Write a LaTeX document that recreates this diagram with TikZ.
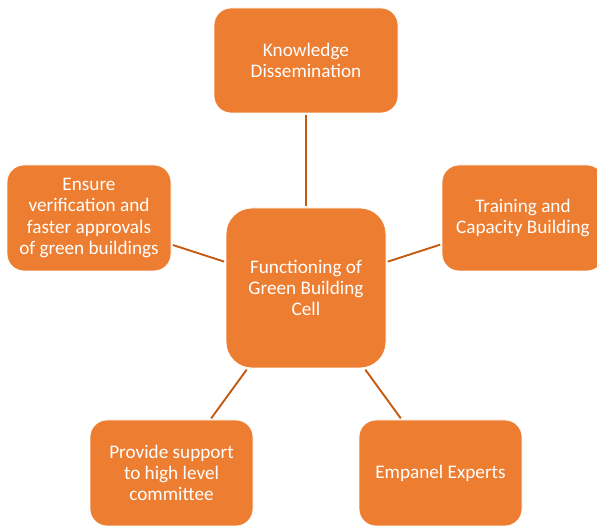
\documentclass[tikz,border=0pt]{standalone}
\usepackage{fontspec}
\setmainfont{Carlito}
\definecolor{boxfill}{HTML}{ED7D31}
\definecolor{linkcol}{HTML}{C55A11}
\begin{document}
\begin{tikzpicture}[x=1pt,y=1pt,
  box/.style={draw=white, line width=0.8pt, fill=boxfill, text=white, align=center,
    rounded corners=17pt, inner sep=0pt, font=\fontsize{19.2}{21.2}\selectfont},
  link/.style={draw=linkcol, line width=1.9pt}]
\useasboundingbox (0,0) rectangle (597,525);
\clip (0,0) rectangle (597,525);
\node[box, minimum width=160pt, minimum height=160pt, rounded corners=26pt] (c) at (306,237) {Functioning of\\Green Building\\Cell};
\node[box, minimum width=184pt, minimum height=105pt] (top) at (306,464.5) {Knowledge\\Dissemination};
\node[box, minimum width=164pt, minimum height=106pt] (left) at (89,307) {Ensure\\verification and\\faster approvals\\of green buildings};
\node[box, minimum width=162pt, minimum height=106pt] (right) at (523,307) {Training and\\Capacity Building};
\node[box, minimum width=163pt, minimum height=106pt] (bl) at (171.5,52) {Provide support\\to high level\\committee};
\node[box, minimum width=163pt, minimum height=106pt] (br) at (440.5,52) {Empanel Experts};
\draw[link, shorten >=1.5pt, shorten <=1.5pt] (top) -- (c);
\draw[link, shorten >=1.5pt, shorten <=1.5pt] (left) -- (c);
\draw[link, shorten >=1.5pt, shorten <=1.5pt] (right) -- (c);
\draw[link, shorten >=1.5pt, shorten <=1.5pt] (bl) -- (c);
\draw[link, shorten >=1.5pt, shorten <=1.5pt] (br) -- (c);
\end{tikzpicture}
\end{document}
